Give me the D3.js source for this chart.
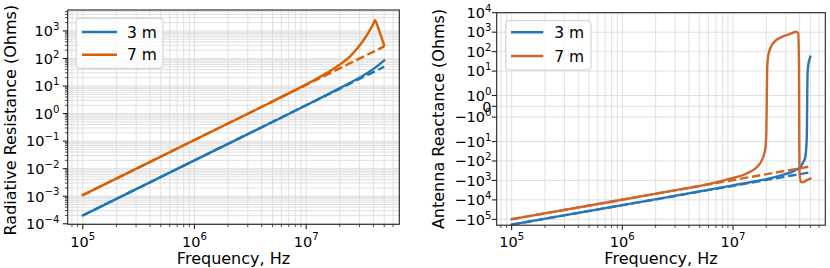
<!DOCTYPE html>
<html><head><meta charset="utf-8">
<script src="https://cdn.jsdelivr.net/npm/d3@7"></script>
<style>body{margin:0;background:#fff} text{font-family:"DejaVu Sans",sans-serif;fill:#000}</style>
</head><body><svg id="c" width="830" height="268" xmlns="http://www.w3.org/2000/svg"></svg>
<script>
// ---------- data ----------
const seriesNames = ["3 m", "7 m"];

// Left panel: radiative resistance (Ohms)
const res3Freq  = [1e5, 1e6, 1e7, 1.5e7, 2e7, 2.5e7, 3e7, 3.5e7, 4e7, 4.5e7, 5e7];
const res3      = [2.0e-4, 2.0e-2, 2.0, 4.6, 8.4, 13.4, 20, 29, 42, 60, 85];
const res3ApproxFreq = [1e5, 5e7];
const res3Approx     = [2.0e-4, 50];
const res7Freq  = [1e5, 1e6, 5e6, 1e7, 1.3e7, 1.6e7, 2e7, 2.5e7, 3e7, 3.5e7, 3.8e7, 4e7, 4.14e7, 4.25e7, 4.6e7, 5e7];
const res7      = [1.1e-3, 0.11, 2.75, 11.5, 20.5, 33, 60, 125, 290, 700, 1250, 1800, 2450, 2000, 800, 300];
const res7ApproxFreq = [1e5, 5e7];
const res7Approx     = [1.1e-3, 275];

// Right panel: antenna reactance (Ohms)
const x3Freq = [1e5, 1e6, 1e7, 2e7, 2.66e7, 3.5e7, 3.9e7, 4.3e7, 4.5e7, 4.6e7, 4.65e7, 4.68e7, 4.72e7, 4.8e7, 4.9e7, 5e7];
const x3     = [-1.85e5, -1.85e4, -1.8e3, -850, -560, -340, -240, -120, -62, -18, -3.8, 0.6, 7.6, 22, 38, 55];
const x3ApproxFreq = [1e5, 5e7];
const x3Approx     = [-1.85e5, -380];
const x7Freq = [1e5, 1e6, 3.3e6, 6e6, 9.4e6, 1.33e7, 1.75e7, 1.95e7, 2.0e7, 2.02e7, 2.04e7, 2.1e7, 2.3e7, 2.8e7, 3.4e7, 3.7e7, 3.88e7, 3.95e7, 3.97e7, 3.99e7, 4.1e7, 4.25e7, 4.6e7, 5e7];
const x7     = [-9.8e4, -9.8e3, -2.9e3, -1.55e3, -800, -440, -136, -28, -3.8, 0.6, 16.6, 81, 270, 590, 880, 1050, 900, 16.6, -3.8, -440, -1200, -1250, -1000, -800];
const x7ApproxFreq = [1e5, 5e7];
const x7Approx     = [-9.8e4, -190];

const xTicks = [1e5, 1e6, 1e7];
const xTickExp = [5, 6, 7];
const yTicksL = [1e-4, 1e-3, 1e-2, 1e-1, 1, 10, 100, 1000];
const yTickExpL = [-4, -3, -2, -1, 0, 1, 2, 3];
const yTicksR = [1e4, 1e3, 1e2, 1e1, 1, 0, -1, -1e1, -1e2, -1e3, -1e4, -1e5];
const yTickLabR = [["","4"],["","3"],["","2"],["","1"],["","0"],["0",null],["\u2212","0"],["\u2212","1"],["\u2212","2"],["\u2212","3"],["\u2212","4"],["\u2212","5"]];

// ---------- style ----------
const colorsL = ["#1f77b4", "#d95f02"];
const colorsR = ["#2776b6", "#d0642a"];
const GRID = "#dcdcdc";
const FS_TICK = 14.5, FS_LAB = 16, FS_LEG = 15.5;
const LW = 2.4;

const svg = d3.select("#c");
svg.append("rect").attr("width",830).attr("height",268).attr("fill","#fff");

function supLabel(sel, base, exp, fs) {
  sel.append("tspan").text(base);
  if (exp !== null) {
    sel.append("tspan").text("10");
    sel.append("tspan").attr("dy", -fs*0.42).attr("font-size", fs*0.7).text(exp);
  }
}
function minorLogTicks(lo, hi) {
  const out = [];
  for (let e = Math.floor(Math.log10(lo)) - 1; e <= Math.ceil(Math.log10(hi)); e++) {
    for (let k = 1; k <= 9; k++) {
      const v = k * Math.pow(10, e);
      if (v >= lo && v <= hi) out.push(v);
    }
  }
  return out;
}

// ===================== LEFT PANEL =====================
(function(){
  const colors = colorsL;
  const L = 67.7, R = 399.3, T = 10, B = 224.3;
  const x = d3.scaleLog().domain([Math.pow(10,4.865), Math.pow(10,7.834)]).range([L, R]);
  const y = d3.scaleLog().domain([Math.pow(10,-4.02), Math.pow(10,3.76)]).range([B, T]);
  const g = svg.append("g");
  const xs = minorLogTicks(x.domain()[0], x.domain()[1]);
  const ys = minorLogTicks(y.domain()[0], y.domain()[1]);
  g.selectAll(".gx").data(xs).enter().append("line")
    .attr("x1", d=>x(d)).attr("x2", d=>x(d)).attr("y1", T).attr("y2", B)
    .attr("stroke", GRID).attr("stroke-width", 0.9);
  g.selectAll(".gy").data(ys).enter().append("line")
    .attr("y1", d=>y(d)).attr("y2", d=>y(d)).attr("x1", L).attr("x2", R)
    .attr("stroke", GRID).attr("stroke-width", 0.9);

  svg.append("clipPath").attr("id","clipL").append("rect")
    .attr("x",L).attr("y",T).attr("width",R-L).attr("height",B-T);
  const line = d3.line().x(d=>x(d[0])).y(d=>y(d[1])).curve(d3.curveMonotoneX);
  const pg = g.append("g").attr("clip-path","url(#clipL)");
  const solids = [[res3Freq,res3],[res7Freq,res7]];
  const dashes = [[res3ApproxFreq,res3Approx],[res7ApproxFreq,res7Approx]];
  solids.forEach((s,i)=>{
    pg.append("path").attr("d", line(d3.zip(s[0],s[1]))).attr("fill","none")
      .attr("stroke",colors[i]).attr("stroke-width",LW).attr("stroke-linejoin","round").attr("stroke-linecap","square");
    const ds = dashes[i];
    pg.append("path").attr("d", line(d3.zip(ds[0],ds[1]))).attr("fill","none")
      .attr("stroke",colors[i]).attr("stroke-width",LW).attr("stroke-dasharray","8.5,3.7");
  });

  g.append("rect").attr("x",L).attr("y",T).attr("width",R-L).attr("height",B-T)
    .attr("fill","none").attr("stroke","#222").attr("stroke-width",1.1);
  g.selectAll(".mx").data(xs).enter().append("line")
    .attr("x1",d=>x(d)).attr("x2",d=>x(d)).attr("y1",B).attr("y2",d=>B+(xTicks.includes(d)?4.9:2.8))
    .attr("stroke","#222").attr("stroke-width",d=>xTicks.includes(d)?1.1:0.8);
  g.selectAll(".my").data(ys).enter().append("line")
    .attr("y1",d=>y(d)).attr("y2",d=>y(d)).attr("x1",L).attr("x2",d=>L-(yTicksL.includes(d)?4.9:2.8))
    .attr("stroke","#222").attr("stroke-width",d=>yTicksL.includes(d)?1.1:0.8);
  xTicks.forEach((t,i)=>{
    const tx = g.append("text").attr("x",x(t)).attr("y",246.5).attr("text-anchor","middle").attr("font-size",FS_TICK);
    supLabel(tx,"",String(xTickExp[i]),FS_TICK);
  });
  yTicksL.forEach((t,i)=>{
    const tx = g.append("text").attr("x",59.5).attr("y",y(t)+5.3).attr("text-anchor","end").attr("font-size",FS_TICK);
    supLabel(tx,"",String(yTickExpL[i]).replace("-","\u2212"),FS_TICK);
  });
  g.append("text").attr("x",(L+R)/2).attr("y",264).attr("text-anchor","middle").attr("font-size",FS_LAB).text("Frequency, Hz");
  g.append("text").attr("transform",`translate(16,${(T+B)/2+3}) rotate(-90)`).attr("text-anchor","middle").attr("font-size",FS_LAB).text("Radiative Resistance (Ohms)");

  const lg = g.append("g");
  lg.append("rect").attr("x",76).attr("y",18.3).attr("width",87).attr("height",50).attr("rx",3)
    .attr("fill","#fff").attr("fill-opacity",0.8).attr("stroke","#cccccc").attr("stroke-width",1);
  seriesNames.forEach((n,i)=>{
    const yy = 32 + i*22.7;
    lg.append("line").attr("x1",82).attr("x2",117).attr("y1",yy).attr("y2",yy).attr("stroke",colors[i]).attr("stroke-width",LW);
    lg.append("text").attr("x",127).attr("y",yy+5.5).attr("font-size",FS_LEG).text(n);
  });
})();

// ===================== RIGHT PANEL =====================
(function(){
  const colors = colorsR;
  const L = 496.7, R = 825.3, T = 12.7, B = 225.2;
  const LT = 2, ADJ = 1/(1-1/10);
  const sym = v => Math.abs(v) <= LT ? v/LT*ADJ : Math.sign(v)*(ADJ + Math.log10(Math.abs(v)/LT));
  const x = d3.scaleLog().domain([Math.pow(10,4.865), Math.pow(10,7.834)]).range([L, R]);
  const yu = d3.scaleLinear().domain([-6.11, sym(1e4)]).range([B, T]);
  const y = v => yu(sym(v));
  const g = svg.append("g");
  const xs = minorLogTicks(x.domain()[0], x.domain()[1]);
  g.selectAll(".gx").data(xs).enter().append("line")
    .attr("x1", d=>x(d)).attr("x2", d=>x(d)).attr("y1", T).attr("y2", B)
    .attr("stroke", GRID).attr("stroke-width", 0.9);
  g.selectAll(".gy").data(yTicksR).enter().append("line")
    .attr("y1", d=>y(d)).attr("y2", d=>y(d)).attr("x1", L).attr("x2", R)
    .attr("stroke", GRID).attr("stroke-width", 0.9);

  svg.append("clipPath").attr("id","clipR").append("rect")
    .attr("x",L).attr("y",T).attr("width",R-L).attr("height",B-T);
  const line = d3.line().x(d=>x(d[0])).y(d=>y(d[1])).curve(d3.curveMonotoneX);
  const pg = g.append("g").attr("clip-path","url(#clipR)");
  const solids = [[x3Freq,x3],[x7Freq,x7]];
  const dashes = [[x3ApproxFreq,x3Approx],[x7ApproxFreq,x7Approx]];
  solids.forEach((s,i)=>{
    pg.append("path").attr("d", line(d3.zip(s[0],s[1]))).attr("fill","none")
      .attr("stroke",colors[i]).attr("stroke-width",LW).attr("stroke-linejoin","round").attr("stroke-linecap","square");
    const ds = dashes[i];
    pg.append("path").attr("d", line(d3.zip(ds[0],ds[1]))).attr("fill","none")
      .attr("stroke",colors[i]).attr("stroke-width",LW).attr("stroke-dasharray","8.5,3.7");
  });

  g.append("rect").attr("x",L).attr("y",T).attr("width",R-L).attr("height",B-T)
    .attr("fill","none").attr("stroke","#222").attr("stroke-width",1.1);
  g.selectAll(".mx").data(xs).enter().append("line")
    .attr("x1",d=>x(d)).attr("x2",d=>x(d)).attr("y1",B).attr("y2",d=>B+(xTicks.includes(d)?4.9:2.8))
    .attr("stroke","#222").attr("stroke-width",d=>xTicks.includes(d)?1.1:0.8);
  g.selectAll(".my").data(yTicksR).enter().append("line")
    .attr("y1",d=>y(d)).attr("y2",d=>y(d)).attr("x1",L).attr("x2",L-4.9)
    .attr("stroke","#222").attr("stroke-width",1.1);
  xTicks.forEach((t,i)=>{
    const tx = g.append("text").attr("x",x(t)).attr("y",246.5).attr("text-anchor","middle").attr("font-size",FS_TICK);
    supLabel(tx,"",String(xTickExp[i]),FS_TICK);
  });
  yTicksR.forEach((t,i)=>{
    const tx = g.append("text").attr("x",491.5).attr("y",y(t)+5.3).attr("text-anchor","end").attr("font-size",FS_TICK);
    const lab = yTickLabR[i];
    supLabel(tx,lab[0],lab[1],FS_TICK);
  });
  g.append("text").attr("x",(L+R)/2).attr("y",264).attr("text-anchor","middle").attr("font-size",FS_LAB).text("Frequency, Hz");
  g.append("text").attr("transform",`translate(444,${(T+B)/2}) rotate(-90)`).attr("text-anchor","middle").attr("font-size",FS_LAB).text("Antenna Reactance (Ohms)");

  const lg = g.append("g");
  lg.append("rect").attr("x",505.7).attr("y",20.7).attr("width",85.3).attr("height",49.3).attr("rx",3)
    .attr("fill","#fff").attr("fill-opacity",0.8).attr("stroke","#cccccc").attr("stroke-width",1);
  seriesNames.forEach((n,i)=>{
    const yy = 32.3 + i*23.7;
    lg.append("line").attr("x1",511).attr("x2",543.3).attr("y1",yy).attr("y2",yy).attr("stroke",colors[i]).attr("stroke-width",LW);
    lg.append("text").attr("x",554.3).attr("y",yy+5.5).attr("font-size",FS_LEG).text(n);
  });
})();
</script></body></html>
